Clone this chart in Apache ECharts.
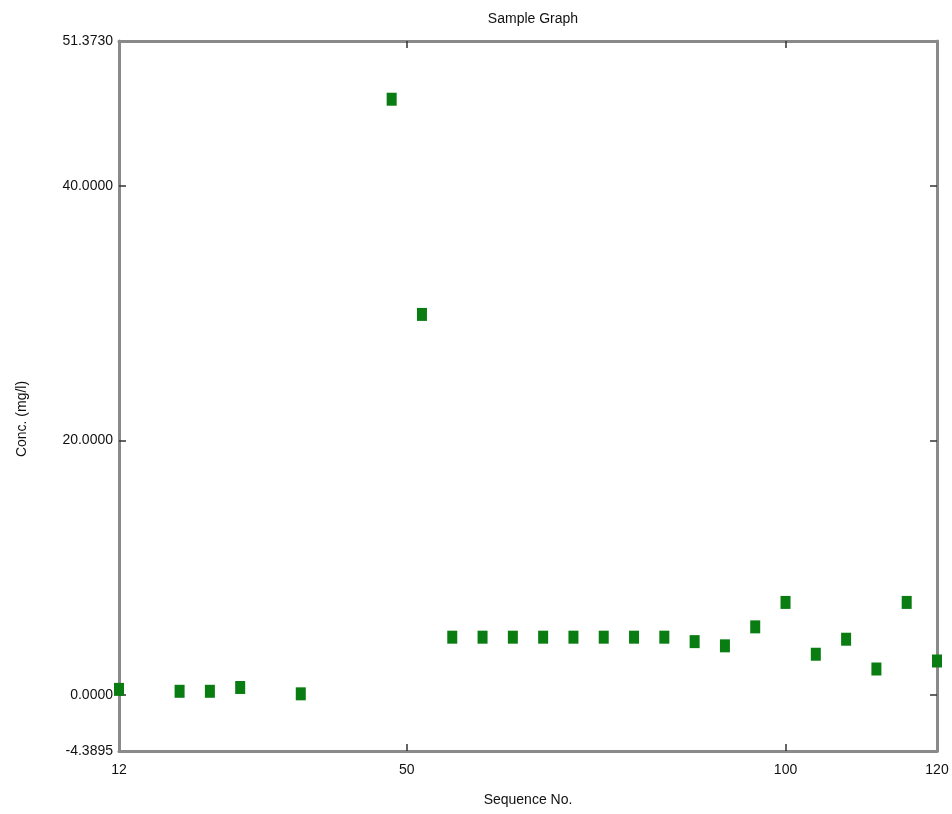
<!DOCTYPE html>
<html>
<head>
<meta charset="utf-8">
<script src="https://cdn.jsdelivr.net/npm/echarts@6/dist/echarts.min.js"></script>
<style>
	html, body { margin: 0; padding: 0; background: #fff; }
	#chart { width: 952px; height: 814px; }
</style>
</head>
<body>
<div id="chart"></div>
<script>
const sequenceNo = [12, 20, 24, 28, 36, 48, 52, 56, 60, 64, 68, 72, 76, 80, 84, 88, 92, 96, 100, 104, 108, 112, 116, 120];
const conc = [0.45, 0.3, 0.3, 0.6, 0.1, 46.8, 29.9, 4.55, 4.55, 4.55, 4.55, 4.55, 4.55, 4.55, 4.55, 4.2, 3.87, 5.36, 7.28, 3.21, 4.39, 2.05, 7.28, 2.68];
const xTicks = [12, 50, 100, 120];
const yTicks = [-4.3895, 0, 20, 40, 51.373];
const yInnerTicks = [0, 20, 40];

const font = "'Liberation Sans Narrow', 'Liberation Sans', Arial, sans-serif";
const axisLine = { show: true, onZero: false, lineStyle: { color: "#8a8a8a", width: 3 } };
const innerTick = { show: true, inside: true, length: 7, lineStyle: { color: "#333", width: 1.5 } };

const chart = echarts.init(document.getElementById("chart"));

const option = {
	backgroundColor: "#fff",
	animation: false,
	title: {
		text: "Sample Graph",
		left: 528,
		textAlign: "center",
		top: 7,
		textStyle: { fontFamily: font, fontSize: 14, fontWeight: "normal", color: "#111" }
	},
	grid: { left: 119, right: 15, top: 41, bottom: 63 },
	xAxis: [
		{
			type: "value",
			min: 12,
			max: 120,
			name: "Sequence No.",
			nameLocation: "middle",
			nameGap: 42,
			nameTextStyle: { fontFamily: font, fontSize: 14, color: "#111" },
			axisLine: axisLine,
			axisTick: Object.assign({}, innerTick, { customValues: [50, 100] }),
			axisLabel: {
				customValues: xTicks,
				fontFamily: font,
				fontSize: 14,
				color: "#111",
				margin: 12
			},
			splitLine: { show: false }
		},
		{
			type: "value",
			position: "top",
			min: 12,
			max: 120,
			axisLine: axisLine,
			axisTick: Object.assign({}, innerTick, { customValues: [50, 100] }),
			axisLabel: { show: false },
			splitLine: { show: false }
		}
	],
	yAxis: [
		{
			type: "value",
			min: -4.3895,
			max: 51.373,
			name: "Conc. (mg/l)",
			nameLocation: "middle",
			nameGap: 90,
			nameTextStyle: { fontFamily: font, fontSize: 14, color: "#111", padding: [0, 0, 0, -46] },
			axisLine: axisLine,
			axisTick: Object.assign({}, innerTick, { customValues: yInnerTicks }),
			axisLabel: {
				customValues: yTicks,
				formatter: v => v.toFixed(4),
				fontFamily: font,
				fontSize: 14,
				color: "#111",
				margin: 6
			},
			splitLine: { show: false }
		},
		{
			type: "value",
			position: "right",
			min: -4.3895,
			max: 51.373,
			axisLine: axisLine,
			axisTick: Object.assign({}, innerTick, { customValues: yInnerTicks }),
			axisLabel: { show: false },
			splitLine: { show: false }
		}
	],
	series: [{
		type: "scatter",
		symbol: "rect",
		symbolSize: [10, 13],
		itemStyle: { color: "#0a7d12", opacity: 1 },
		clip: true,
		data: sequenceNo.map((s, i) => [s, conc[i]])
	}]
};

chart.setOption(option);
window.onresize = chart.resize;
</script>
</body>
</html>
